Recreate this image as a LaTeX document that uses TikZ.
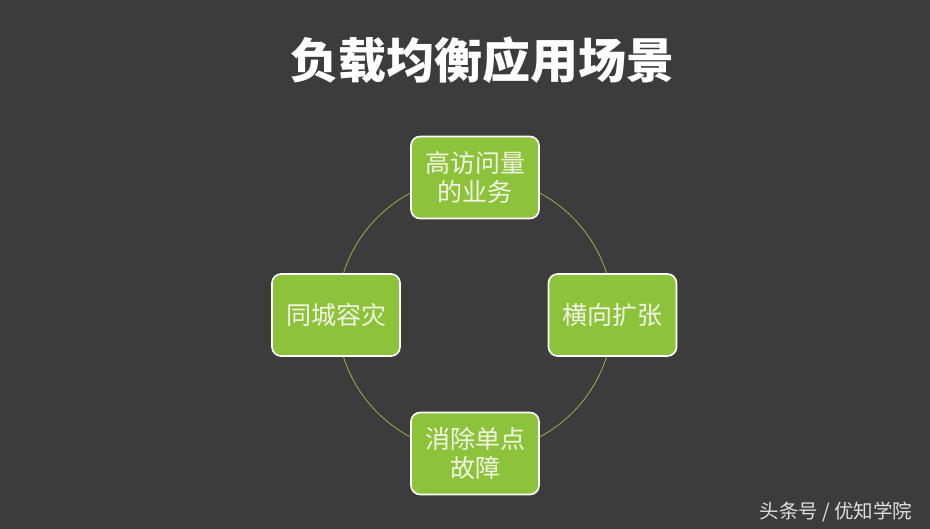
\documentclass[tikz,border=0pt]{standalone}
\usepackage{fontspec}
\newfontfamily\cjk{Noto Sans CJK SC}
\definecolor{bg}{HTML}{3C3C3C}
\definecolor{boxgreen}{HTML}{8DC33B}
\definecolor{ringc}{HTML}{9DB040}
\definecolor{txtc}{HTML}{F4F4E6}
\begin{document}
\begin{tikzpicture}[x=1pt,y=-1pt,
  scenebox/.style={draw=white,line width=1.6pt,fill=boxgreen,rounded corners=9pt,
    minimum width=128pt,minimum height=82pt,inner sep=0pt,align=center,
    text=txtc,font=\cjk\fontsize{25}{29}\selectfont}]
\fill[bg] (0,0) rectangle (930,529);
\useasboundingbox (0,0) rectangle (930,529);
\node[font=\cjk\bfseries\fontsize{48}{52}\selectfont,text=white] (title) at (482,60) {负载均衡应用场景};
\coordinate (c) at (475,315);
\draw[ringc,line width=0.8pt] (c) circle[radius=138];
\node[scenebox] (top) at (475,177.5) {高访问量\\的业务};
\node[scenebox] (left) at (336,315) {同城容灾};
\node[scenebox] (right) at (612.5,315) {横向扩张};
\node[scenebox] (bottom) at (475,453.5) {消除单点\\故障};
\node[font=\cjk\fontsize{19.5}{21}\selectfont,text=white!88!black,anchor=east] (wm) at (916,512) {头条号 / 优知学院};
\end{tikzpicture}
\end{document}
